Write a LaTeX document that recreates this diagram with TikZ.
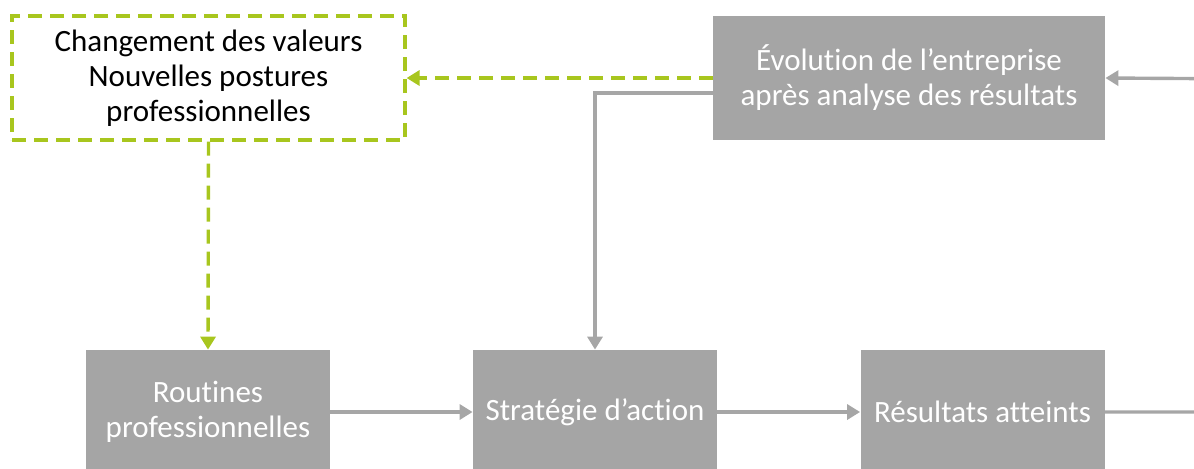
\documentclass[tikz,border=0pt]{standalone}
\usepackage{fontspec}
\setmainfont{Carlito}[Ligatures=NoCommon]
\usetikzlibrary{arrows.meta}
\definecolor{boxgray}{HTML}{A5A5A5}
\definecolor{linegray}{HTML}{A6A6A6}
\definecolor{lime}{HTML}{A8C61E}
\begin{document}
\begin{tikzpicture}[x=0.5pt,y=-0.5pt,
  txt/.style={align=center, inner sep=0pt, font=\fontsize{15.5}{17.5}\selectfont},
  graybox/.style={txt, fill=boxgray, draw=none, text=white},
  widebox/.style={graybox, minimum width=196pt, minimum height=62pt},
  smallbox/.style={graybox, minimum width=122pt, minimum height=62pt},
  greenbox/.style={txt, draw=lime, line width=1.6pt, dash pattern=on 7pt off 4pt, text=black, minimum width=196.5pt, minimum height=62pt},
  grayarrow/.style={draw=linegray, line width=1.7pt, -{Triangle[length=6.5pt,width=7.5pt]}},
  greenarrow/.style={draw=lime, line width=1.7pt, dash pattern=on 7pt off 4pt, -{Triangle[length=6.5pt,width=7.5pt]}}
]
\useasboundingbox (0,0) rectangle (1194,468);
\clip (0,0) rectangle (1194,468);
\node[greenbox] (chg) at (208.5,78) {Changement des valeurs\\Nouvelles postures\\professionnelles};
\node[widebox] (evo) at (909,78) {Évolution de l’entreprise\\après analyse des résultats};
\node[smallbox] (rout) at (208,412) {Routines\\professionnelles};
\node[smallbox] (strat) at (595,412) {Stratégie d’action};
\node[smallbox] (res) at (982.5,412) {Résultats atteints};
\coordinate (loopA) at (1260,412);
\coordinate (loopB) at (1260,79);
\draw[greenarrow] (evo.west) -- (chg.east);
\draw[greenarrow] (chg.south) -- (rout.north);
\draw[grayarrow] ([yshift=-7.5pt]evo.west) -| (strat.north);
\draw[grayarrow] (rout.east) -- (strat.west);
\draw[grayarrow] (strat.east) -- (res.west);
\draw[grayarrow] (res.east) -- (loopA) -- (loopB) -- (evo.east);
\end{tikzpicture}
\end{document}
